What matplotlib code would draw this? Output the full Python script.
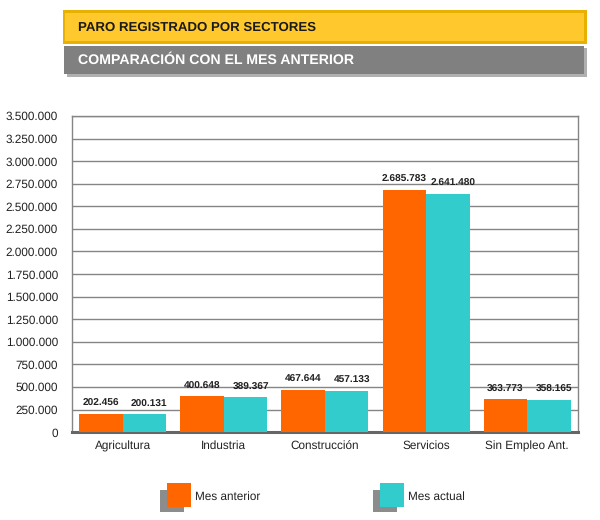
import numpy as np
import matplotlib.pyplot as plt
from matplotlib.patches import Rectangle
from matplotlib.ticker import FuncFormatter

plt.rcParams['font.family'] = ['Liberation Sans', 'DejaVu Sans']
plt.rcParams['text.hinting'] = 'no_hinting'

# data
sectores = ["Agricultura", "Industria", "Construcción", "Servicios", "Sin Empleo Ant."]
mes_anterior = [202456, 400648, 467644, 2685783, 363773]
mes_actual = [200131, 389367, 457133, 2641480, 358165]
series_names = ["Mes anterior", "Mes actual"]
colors = ["#FF6600", "#33CCCC"]

def miles(v):
    return "{:,.0f}".format(v).replace(",", ".")

fig = plt.figure(figsize=(6, 5.2), dpi=100)
ax = fig.add_axes([0.12, 0.169, 0.843, 0.608])

x = np.arange(len(sectores))
w = 0.43
b1 = ax.bar(x - w / 2, mes_anterior, w, color=colors[0], zorder=3)
b2 = ax.bar(x + w / 2, mes_actual, w, color=colors[1], zorder=3)

# labels sit a little right of each bar centre, as in the original
for bars, vals, dx in ((b1, mes_anterior, 0.0), (b2, mes_actual, 0.05)):
    for r, v in zip(bars, vals):
        ax.text(r.get_x() + r.get_width() / 2 + dx, v + 60000, miles(v),
                ha="center", va="bottom", fontsize=7.3, fontweight="bold",
                color="#222222", zorder=4)

ax.set_xlim(-0.5, len(sectores) - 0.5)
ax.set_ylim(0, 3500000)
ax.set_yticks(np.arange(0, 3500001, 250000))
ax.yaxis.set_major_formatter(FuncFormatter(lambda v, p: miles(v)))
ax.set_xticks(x)
ax.set_xticklabels(sectores)
ax.tick_params(axis="both", length=0, labelsize=8.5, colors="#222222")
ax.tick_params(axis="x", pad=6)
ax.tick_params(axis="y", pad=10)
ax.grid(axis="y", color="#858585", linewidth=1, zorder=0)

for s in ["left", "right", "top"]:
    ax.spines[s].set_color("#858585")
    ax.spines[s].set_linewidth(1)
ax.spines["bottom"].set_color("#666666")
ax.spines["bottom"].set_linewidth(2.2)

# title banners
fig.patches.append(Rectangle((0.105, 0.915), 0.874, 0.066, transform=fig.transFigure,
                             facecolor="#E8B000", edgecolor="none"))
fig.patches.append(Rectangle((0.109, 0.921), 0.864, 0.054, transform=fig.transFigure,
                             facecolor="#FFC82C", edgecolor="none"))
fig.text(0.13, 0.948, "PARO REGISTRADO POR SECTORES", fontsize=9.5,
         fontweight="bold", color="#1a1a1a", va="center", ha="left")

fig.patches.append(Rectangle((0.112, 0.851), 0.867, 0.057, transform=fig.transFigure,
                             facecolor="#b0b0b0", edgecolor="none"))
fig.patches.append(Rectangle((0.107, 0.857), 0.867, 0.055, transform=fig.transFigure,
                             facecolor="#808080", edgecolor="none"))
fig.text(0.13, 0.884, "COMPARACIÓN CON EL MES ANTERIOR",
         fontsize=10.2, fontweight="bold", color="white", va="center", ha="left")

# legend with shadowed squares
leg_x = [0.278, 0.633]
for lx, name, c in zip(leg_x, series_names, colors):
    fig.patches.append(Rectangle((lx - 0.012, 0.015), 0.04, 0.043,
                                 transform=fig.transFigure,
                                 facecolor="#8c8c8c", edgecolor="none"))
    fig.patches.append(Rectangle((lx, 0.025), 0.04, 0.046,
                                 transform=fig.transFigure,
                                 facecolor=c, edgecolor="none"))
    fig.text(lx + 0.047, 0.045, name, fontsize=8.5, color="#222222",
             va="center", ha="left")

fig.savefig("out.png", dpi=100)
